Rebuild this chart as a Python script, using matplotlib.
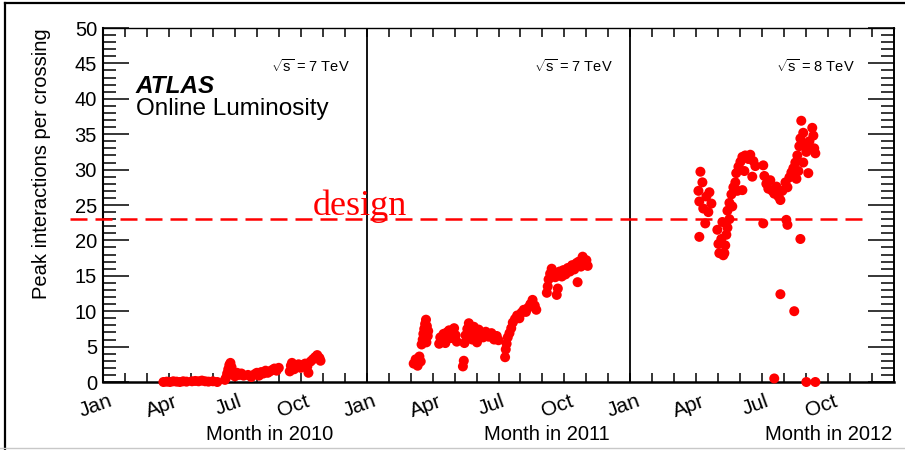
import matplotlib
matplotlib.use("Agg")
import matplotlib.pyplot as plt
from matplotlib.lines import Line2D
from matplotlib.transforms import ScaledTranslation, blended_transform_factory
import numpy as np

plt.rcParams["font.family"] = ["Liberation Sans", "DejaVu Sans"]
plt.rcParams["mathtext.fontset"] = "custom"
plt.rcParams["mathtext.rm"] = "Liberation Sans"
plt.rcParams["mathtext.it"] = "Liberation Sans:italic"
plt.rcParams["mathtext.bf"] = "Liberation Sans:bold"

# ---------------------------------------------------------------- data
YEARS = [2010, 2011, 2012]
ENERGIES_TEV = ["7", "7", "8"]
MONTH_LABELS = ["Jan", "Apr", "Jul", "Oct"]
DESIGN_PILEUP = 23.0

# x: months since 1 January of the year, y: peak interactions per crossing
month_2010 = [2.75, 2.9, 3.05, 3.2, 3.35, 3.5, 3.65, 3.8,
              4.05, 4.2, 4.35, 4.5, 4.65, 4.8, 5.0, 5.2,
              5.55, 5.6, 5.65, 5.7, 5.75, 5.8, 5.85, 5.9, 6.0, 6.1, 6.2, 6.3, 6.4,
              6.6, 6.75, 6.9, 7.0, 7.1, 7.2, 7.3, 7.4, 7.5, 7.6, 7.7, 7.8, 7.9, 8.0,
              8.5, 8.55, 8.6, 8.7, 8.8, 8.9, 9.0, 9.1, 9.2, 9.3, 9.35, 9.45, 9.55,
              9.65, 9.75, 9.85, 9.9]
peak_2010 = [0.0, 0.05, 0.0, 0.1, 0.05, 0.0, 0.1, 0.05,
             0.1, 0.15, 0.1, 0.2, 0.1, 0.05, 0.1, 0.0,
             0.3, 0.6, 1.2, 1.8, 2.4, 2.7, 2.1, 1.4, 0.8, 1.3, 1.0, 1.2, 0.9,
             1.0, 0.7, 1.1, 1.3, 0.9, 1.4, 1.2, 1.6, 1.3, 1.5, 1.7, 1.9, 1.6, 2.0,
             1.5, 2.3, 2.7, 1.8, 2.2, 2.5, 2.0, 2.4, 2.6, 2.2, 1.3, 2.9, 3.2,
             3.5, 3.8, 3.4, 3.0]

month_2011 = [2.14, 2.23, 2.32, 2.4, 2.46,
              2.5, 2.55, 2.58, 2.62, 2.66, 2.7, 2.74, 2.78, 2.72, 2.8,
              3.3, 3.35, 3.42, 3.5, 3.58, 3.65, 3.75, 3.82, 3.9, 3.98, 4.05, 4.1,
              4.38, 4.42,
              4.45, 4.5, 4.58, 4.65, 4.72, 4.8, 4.88, 4.95, 5.02, 5.1, 5.18,
              5.3, 5.42, 5.55, 5.68, 5.8, 5.92, 6.0,
              6.3, 6.33, 6.37, 6.42, 6.5, 6.58, 6.65, 6.75, 6.85, 6.95, 7.05, 7.15,
              7.25, 7.35, 7.45, 7.55, 7.65, 7.72,
              8.2, 8.24, 8.28, 8.35, 8.42, 8.5, 8.58, 8.65, 8.7, 8.78, 8.88, 8.95,
              9.05, 9.15, 9.25, 9.35, 9.45, 9.55, 9.6, 9.65, 9.75, 9.83, 9.9,
              10.0, 10.06]
peak_2011 = [2.6, 3.2, 2.3, 3.6, 2.9,
             5.3, 6.0, 6.8, 7.5, 8.2, 8.8, 7.9, 6.5, 5.6, 7.2,
             5.4, 6.3, 5.9, 6.8, 5.5, 7.0, 7.3, 6.2, 6.9, 7.6, 6.6, 5.7,
             2.2, 3.0,
             5.5, 6.6, 7.5, 8.3, 7.2, 6.0, 7.8, 6.8, 5.6, 7.4, 6.5,
             6.3, 7.1, 6.4, 6.9, 6.0, 6.5, 5.9,
             3.5, 4.6, 5.4, 6.3, 6.9, 7.6, 8.4, 8.9, 9.4, 9.0, 9.8, 10.2,
             9.9, 10.5, 11.0, 11.6, 10.8, 10.2,
             12.6, 13.5, 14.5, 15.3, 16.0, 15.5, 14.8, 12.3, 13.2, 15.6, 14.9, 15.8,
             15.2, 16.1, 15.6, 16.5, 15.9, 16.8, 14.1, 17.0, 16.3, 17.7, 16.6,
             17.2, 16.4]

month_2012 = [3.19, 3.28, 3.10, 3.14, 3.32, 3.46, 3.60, 3.69, 3.55, 3.41, 3.14,
              3.96, 4.01, 4.05, 4.14, 4.19, 4.23, 4.28, 4.32, 4.37, 4.42, 4.51,
              4.42, 4.51, 4.60, 4.69, 4.78, 4.87, 4.64,
              4.82, 4.92, 5.01, 5.10, 5.23, 5.37, 5.46, 5.60, 5.69, 5.55, 5.10, 5.19,
              6.05, 6.10, 6.19, 6.28, 6.37, 6.46, 6.55, 6.65, 6.74, 6.83, 6.92,
              7.06, 7.15, 7.24, 7.33,
              6.05, 7.10, 7.15, 7.74,
              7.42, 7.51, 7.60, 7.69, 7.74, 7.78, 7.87, 7.97, 8.01, 8.10, 8.15,
              8.19, 8.28, 8.33, 8.37, 8.42, 7.87, 7.65, 7.56,
              6.83, 7.46, 6.55, 8.01, 8.42]
peak_2012 = [29.7, 28.2, 27.0, 25.5, 24.5, 26.2, 26.8, 25.2, 24.0, 22.4, 20.5,
             21.5, 19.5, 18.2, 20.2, 22.6, 17.9, 18.2, 19.3, 20.8, 21.8, 23.0,
             24.2, 25.3, 26.5, 27.5, 28.2, 27.0, 24.8,
             29.5, 30.4, 31.1, 31.8, 32.0, 31.5, 32.1, 31.2, 30.5, 29.0, 27.1, 29.8,
             30.6, 29.1, 28.0, 27.3, 28.5, 27.0, 26.6, 27.6, 26.2, 25.7, 27.0,
             28.2, 27.5, 28.9, 29.6,
             22.4, 22.9, 22.2, 20.2,
             30.2, 31.0, 32.0, 33.3, 34.4, 36.9, 35.2, 33.6, 32.5, 29.5, 34.0,
             33.0, 35.9, 34.8, 33.0, 32.3, 31.0, 29.8, 28.7,
             12.4, 10.0, 0.5, 0.0, 0.0]

months = [month_2010, month_2011, month_2012]
peaks = [peak_2010, peak_2011, peak_2012]

# ---------------------------------------------------------------- figure
W, H = 905, 450
fig = plt.figure(figsize=(W / 100, H / 100), dpi=100)
ax = fig.add_axes([103 / W, 68 / H, 791 / W, 354 / H])

n_years = len(YEARS)
ax.set_xlim(0, 12 * n_years)
ax.set_ylim(0, 50)

RED = "#ff0000"
for i, (mx, py) in enumerate(zip(months, peaks)):
    ax.scatter(np.asarray(mx) + 12 * i, py, s=52, color=RED, edgecolors="none",
               zorder=4, clip_on=False)

# year separators
for i in range(1, n_years):
    ax.axvline(12 * i, color="black", lw=1.3, zorder=2)

# design pile-up line, running out over the tick-label margin
ax.plot([-1.5, 34.7], [DESIGN_PILEUP, DESIGN_PILEUP], color=RED, lw=1.8,
        dashes=(6.8, 3.2), clip_on=False, zorder=3)
ax.text(9.56, DESIGN_PILEUP + 0.6, "design", color=RED, fontsize=26,
        family=["Liberation Serif", "DejaVu Serif"], va="baseline", ha="left",
        zorder=5)

# ticks
n_months = 12 * n_years
ax.set_xticks(np.arange(0, n_months + 1))
xlabels = [MONTH_LABELS[(m % 12) // 3] if (m % 3 == 0 and m < n_months) else ""
           for m in range(n_months + 1)]
ax.set_xticklabels(xlabels, rotation=20, ha="center")
ax.tick_params(axis="x", which="major", direction="in", length=6.5, width=1.1,
               top=True, pad=7, labelsize=15)
shift = ScaledTranslation(-5 / 72, 0, fig.dpi_scale_trans)
for lbl in ax.get_xticklabels():
    lbl.set_transform(lbl.get_transform() + shift)

ax.set_yticks(np.arange(0, 51, 5))
ax.set_yticks(np.arange(0, 51, 1), minor=True)
ax.tick_params(axis="y", which="major", direction="in", length=18.7, width=1.1,
               right=True, pad=4.3, labelsize=14.5)
ax.tick_params(axis="y", which="minor", direction="in", length=9.4, width=1.1,
               right=True)

for side, lw in {"left": 1.5, "bottom": 1.8, "right": 1.4, "top": 1.0}.items():
    ax.spines[side].set_linewidth(lw)

ax.set_ylabel("Peak interactions per crossing", fontsize=14.5, loc="top")
ax.yaxis.set_label_coords(-0.066, 1.0)

# per-year axis titles
xt = blended_transform_factory(ax.transData, ax.transAxes)
title_right = [10.47, 23.08, 35.92]
for i, yr in enumerate(YEARS):
    ax.text(title_right[i], -0.147, f"Month in {yr}", transform=xt, ha="right",
            va="center", fontsize=14.5)

# centre-of-mass energy labels
energy_right = [11.24, 23.21, 34.23]
for i, e in enumerate(ENERGIES_TEV):
    ax.text(energy_right[i], 44.5, r"$\sqrt{\mathrm{s}}$" + f" = {e} TeV",
            ha="right", va="center", fontsize=10.5)

ax.text(1.5, 40.8, "ATLAS", fontsize=17.5, fontweight="bold",
        fontstyle="italic", va="baseline")
ax.text(1.5, 37.7, "Online Luminosity", fontsize=17.5, va="baseline")

# outer frame
fig.add_artist(Line2D([5 / W, 5 / W], [1 / H, 1 - 3 / H], color="black", lw=1.6))
fig.add_artist(Line2D([5 / W, 1], [1 - 3 / H, 1 - 3 / H], color="black", lw=1.6))
fig.add_artist(Line2D([0, 1], [2 / H, 2 / H], color="#c8c8c8", lw=1.0))

fig.savefig("out.png", dpi=100)
